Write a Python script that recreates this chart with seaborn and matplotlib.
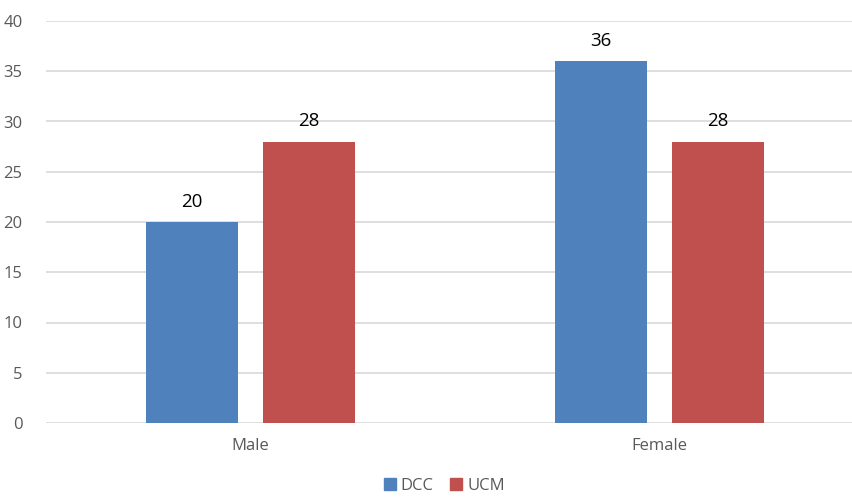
import pandas as pd
import matplotlib
matplotlib.use('Agg')
import matplotlib.pyplot as plt
import seaborn as sns

# Dados do gráfico
categorias = ['Male', 'Female']
dcc = [20, 36]
ucm = [28, 28]
series = ['DCC', 'UCM']
cores = ['#4F81BD', '#C0504D']

df = pd.DataFrame({
    'categoria': categorias * 2,
    'serie': ['DCC'] * len(categorias) + ['UCM'] * len(categorias),
    'valor': dcc + ucm,
})

sns.set_style('white')
plt.rcParams['font.family'] = ['Open Sans', 'DejaVu Sans']

fig = plt.figure(figsize=(8.53, 4.98), dpi=100)
ax = fig.add_axes([46 / 853, 75 / 498, 818 / 853, 402 / 498])

sns.barplot(data=df, x='categoria', y='valor', hue='serie', order=categorias,
            hue_order=series, palette=cores, width=0.572, gap=0.214,
            saturation=1, linewidth=0, ax=ax, legend=False)

for cont in ax.containers:
    ax.bar_label(cont, fmt='%d', padding=8, fontsize=13.5, color='#000000')

ax.set_ylim(0, 40)
ax.set_xlim(-0.5, 1.5)
ax.set_yticks(range(0, 41, 5))
ax.yaxis.grid(True, color='#D9D9D9', linewidth=1.2)
ax.set_axisbelow(True)
for s in ax.spines.values():
    s.set_visible(False)
ax.tick_params(axis='both', length=0, colors='#595959', labelsize=12)
ax.tick_params(axis='x', pad=11)
ax.tick_params(axis='y', pad=17)
ax.set_xlabel('')
ax.set_ylabel('')

handles = [plt.Rectangle((0, 0), 1, 1, color=c) for c in cores]
leg = fig.legend(handles, series, loc='lower center', bbox_to_anchor=(0.521, -0.022),
                 ncol=2, frameon=False, handlelength=0.7, handleheight=0.7,
                 handletextpad=0.3, columnspacing=1.0, fontsize=12)
for t in leg.get_texts():
    t.set_color('#595959')

fig.savefig('out.png', dpi=100)
